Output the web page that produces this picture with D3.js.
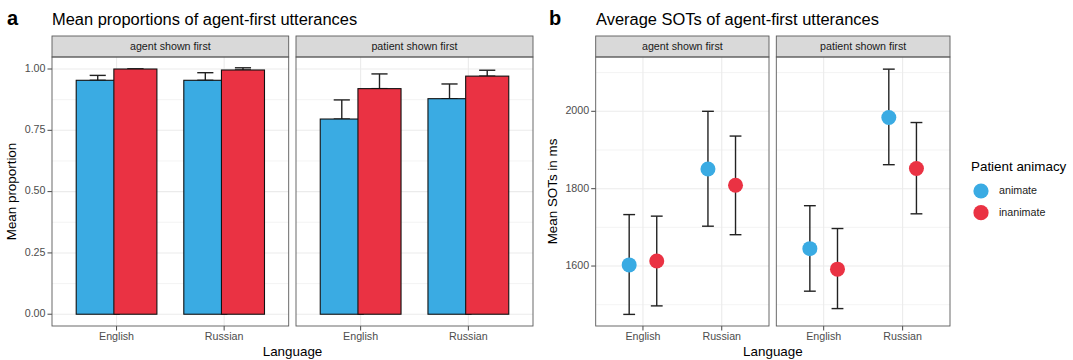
<!DOCTYPE html>
<html>
<head>
<meta charset="utf-8">
<script src="https://cdn.jsdelivr.net/npm/d3@7"></script>
<style>
  body { margin: 0; background: #fff; }
  svg { font-family: "Liberation Sans", Arial, Helvetica, sans-serif; }
</style>
</head>
<body>
<svg id="wrapper" width="1073" height="360"></svg>
<script>
// categories
let languages = ["English", "Russian"];
let facets = ["agent shown first", "patient shown first"];
let animacy = ["animate", "inanimate"];
let colors = ["#3aabe3", "#ea3243"];

// panel a: mean proportions (rows = facet, cols = language)
let propAnimate = [[0.954, 0.954], [0.796, 0.879]];
let propAnimateUpper = [[0.974, 0.985], [0.874, 0.939]];
let propInanimate = [[1.0, 0.996], [0.920, 0.971]];
let propInanimateUpper = [[1.0, 1.005], [0.980, 0.995]];
let propTicks = [0, 0.25, 0.5, 0.75, 1];

// panel b: mean SOTs in ms
let sotAnimate = [[1603, 1851], [1645, 1984]];
let sotAnimateLow = [[1475, 1703], [1535, 1862]];
let sotAnimateHigh = [[1733, 2000], [1756, 2109]];
let sotInanimate = [[1613, 1809], [1592, 1852]];
let sotInanimateLow = [[1497, 1681], [1490, 1735]];
let sotInanimateHigh = [[1729, 1936], [1697, 1971]];
let sotTicks = [1600, 1800, 2000];

const gridColor = "#ebebeb";
const borderColor = "#5a5a5a";
const tickText = "#4d4d4d";
const dodge = 0.175;

let svg = d3.select("#wrapper");

let panelTop = 57, panelBottom = 326, stripTop = 36;

let drawFacetFrame = function (x, y, label, yTicks, minorTicks, showY, fmt) {
	let [x0, x1] = x.range();
	let g = svg.append("g");
	// minor grid
	g.selectAll(".minor").data(minorTicks).enter().append("line")
		.attr("x1", x0).attr("x2", x1)
		.attr("y1", (d) => y(d)).attr("y2", (d) => y(d))
		.attr("stroke", gridColor).attr("stroke-width", 0.6);
	g.selectAll(".major").data(yTicks).enter().append("line")
		.attr("x1", x0).attr("x2", x1)
		.attr("y1", (d) => y(d)).attr("y2", (d) => y(d))
		.attr("stroke", gridColor).attr("stroke-width", 1.1);
	g.selectAll(".vmajor").data(languages).enter().append("line")
		.attr("x1", (d, i) => x(i + 1)).attr("x2", (d, i) => x(i + 1))
		.attr("y1", panelTop).attr("y2", panelBottom)
		.attr("stroke", gridColor).attr("stroke-width", 1.1);
	// strip
	svg.append("rect")
		.attr("x", x0).attr("y", stripTop)
		.attr("width", x1 - x0).attr("height", panelTop - stripTop)
		.attr("fill", "#d9d9d9").attr("stroke", borderColor).attr("stroke-width", 0.9);
	svg.append("text")
		.attr("x", (x0 + x1) / 2).attr("y", (stripTop + panelTop) / 2 + 0.5)
		.attr("text-anchor", "middle").attr("dominant-baseline", "middle")
		.attr("font-size", 10.7).attr("fill", "#1a1a1a")
		.text(label);
	// x axis ticks
	languages.forEach((lang, i) => {
		svg.append("line")
			.attr("x1", x(i + 1)).attr("x2", x(i + 1))
			.attr("y1", panelBottom).attr("y2", panelBottom + 4.5)
			.attr("stroke", "#333").attr("stroke-width", 0.9);
		svg.append("text")
			.attr("x", x(i + 1)).attr("y", 337)
			.attr("text-anchor", "middle").attr("dominant-baseline", "middle")
			.attr("font-size", 10.7).attr("fill", tickText)
			.text(lang);
	});
	if (showY) {
		yTicks.forEach((t) => {
			svg.append("line")
				.attr("x1", x0 - 4.5).attr("x2", x0)
				.attr("y1", y(t)).attr("y2", y(t))
				.attr("stroke", "#333").attr("stroke-width", 0.9);
			svg.append("text")
				.attr("x", x0 - 6.5).attr("y", y(t))
				.attr("text-anchor", "end").attr("dominant-baseline", "middle")
				.attr("font-size", 10.7).attr("fill", tickText)
				.text(fmt(t));
		});
	}
	return g;
};

let drawBorder = function (x) {
	let [x0, x1] = x.range();
	svg.append("rect")
		.attr("x", x0).attr("y", panelTop)
		.attr("width", x1 - x0).attr("height", panelBottom - panelTop)
		.attr("fill", "none").attr("stroke", borderColor).attr("stroke-width", 0.9);
};

let drawErrorbar = function (x, y, pos, lo, hi) {
	let half = 0.075;
	svg.append("line")
		.attr("x1", x(pos)).attr("x2", x(pos))
		.attr("y1", y(lo)).attr("y2", y(hi))
		.attr("stroke", "#222").attr("stroke-width", 1.4);
	[lo, hi].forEach((v) => {
		svg.append("line")
			.attr("x1", x(pos - half)).attr("x2", x(pos + half))
			.attr("y1", y(v)).attr("y2", y(v))
			.attr("stroke", "#222").attr("stroke-width", 1.4);
	});
};

// ---------- panel a ----------
let yProp = d3.scaleLinear().domain([-0.048, 1.049]).range([panelBottom, panelTop]);
let xPropRanges = [[52, 288.7], [296, 533]];
let propMinor = [0.125, 0.375, 0.625, 0.875];

facets.forEach((facet, f) => {
	let x = d3.scaleLinear().domain([0.4, 2.6]).range(xPropRanges[f]);
	drawFacetFrame(x, yProp, facet, propTicks, propMinor, f === 0, d3.format(".2f"));
	languages.forEach((lang, i) => {
		let c = i + 1;
		let series = [
			{ v: propAnimate[f][i], up: propAnimateUpper[f][i], pos: c - dodge, col: colors[0] },
			{ v: propInanimate[f][i], up: propInanimateUpper[f][i], pos: c + dodge, col: colors[1] },
		];
		series.forEach((s) => {
			// only upper half shows above the bar
			drawErrorbar(x, yProp, s.pos, s.v, s.up);
		});
		series.forEach((s) => {
			svg.append("rect")
				.attr("x", x(s.pos - 0.2)).attr("y", yProp(s.v))
				.attr("width", x(s.pos + 0.2) - x(s.pos - 0.2))
				.attr("height", yProp(0) - yProp(s.v))
				.attr("fill", s.col).attr("stroke", "#111").attr("stroke-width", 1.1);
		});
	});
	drawBorder(x);
});

// ---------- panel b ----------
let ySot = d3.scaleLinear().domain([1445, 2140.4]).range([panelBottom, panelTop]);
let xSotRanges = [[595.7, 769], [776.3, 950]];
let sotMinor = [1500, 1700, 1900, 2100];

facets.forEach((facet, f) => {
	let x = d3.scaleLinear().domain([0.4, 2.6]).range(xSotRanges[f]);
	drawFacetFrame(x, ySot, facet, sotTicks, sotMinor, f === 0, d3.format("d"));
	languages.forEach((lang, i) => {
		let c = i + 1;
		let series = [
			{ v: sotAnimate[f][i], lo: sotAnimateLow[f][i], hi: sotAnimateHigh[f][i], pos: c - dodge, col: colors[0] },
			{ v: sotInanimate[f][i], lo: sotInanimateLow[f][i], hi: sotInanimateHigh[f][i], pos: c + dodge, col: colors[1] },
		];
		series.forEach((s) => drawErrorbar(x, ySot, s.pos, s.lo, s.hi));
		series.forEach((s) => {
			svg.append("circle")
				.attr("cx", x(s.pos)).attr("cy", ySot(s.v)).attr("r", 7.5)
				.attr("fill", s.col);
		});
	});
	drawBorder(x);
});

// ---------- titles ----------
svg.append("text").attr("x", 7).attr("y", 24.5)
	.attr("font-size", 20).attr("font-weight", "bold").text("a");
svg.append("text").attr("x", 52).attr("y", 25)
	.attr("font-size", 16.45).attr("fill", "#000").text("Mean proportions of agent-first utterances");
svg.append("text").attr("x", 549).attr("y", 24.5)
	.attr("font-size", 20).attr("font-weight", "bold").text("b");
svg.append("text").attr("x", 596).attr("y", 25)
	.attr("font-size", 16.45).attr("fill", "#000").text("Average SOTs of agent-first utterances");

// axis titles
svg.append("text")
	.attr("transform", "translate(12," + (panelTop + panelBottom) / 2 + ") rotate(-90)")
	.attr("text-anchor", "middle").attr("dominant-baseline", "middle")
	.attr("font-size", 13.4).text("Mean proportion");
svg.append("text")
	.attr("transform", "translate(553," + (panelTop + panelBottom) / 2 + ") rotate(-90)")
	.attr("text-anchor", "middle").attr("dominant-baseline", "middle")
	.attr("font-size", 13.4).text("Mean SOTs in ms");
svg.append("text").attr("x", 292.5).attr("y", 352)
	.attr("text-anchor", "middle").attr("dominant-baseline", "middle")
	.attr("font-size", 13.4).text("Language");
svg.append("text").attr("x", 772.9).attr("y", 352)
	.attr("text-anchor", "middle").attr("dominant-baseline", "middle")
	.attr("font-size", 13.4).text("Language");

// ---------- legend ----------
svg.append("text").attr("x", 971).attr("y", 167)
	.attr("dominant-baseline", "middle")
	.attr("font-size", 13.4).text("Patient animacy");
animacy.forEach((a, i) => {
	let cy = 191 + i * 21.7;
	svg.append("circle").attr("cx", 981).attr("cy", cy).attr("r", 7.6).attr("fill", colors[i]);
	svg.append("text").attr("x", 999).attr("y", cy)
		.attr("dominant-baseline", "middle")
		.attr("font-size", 10.7).attr("fill", "#1a1a1a").text(a);
});
</script>
</body>
</html>
